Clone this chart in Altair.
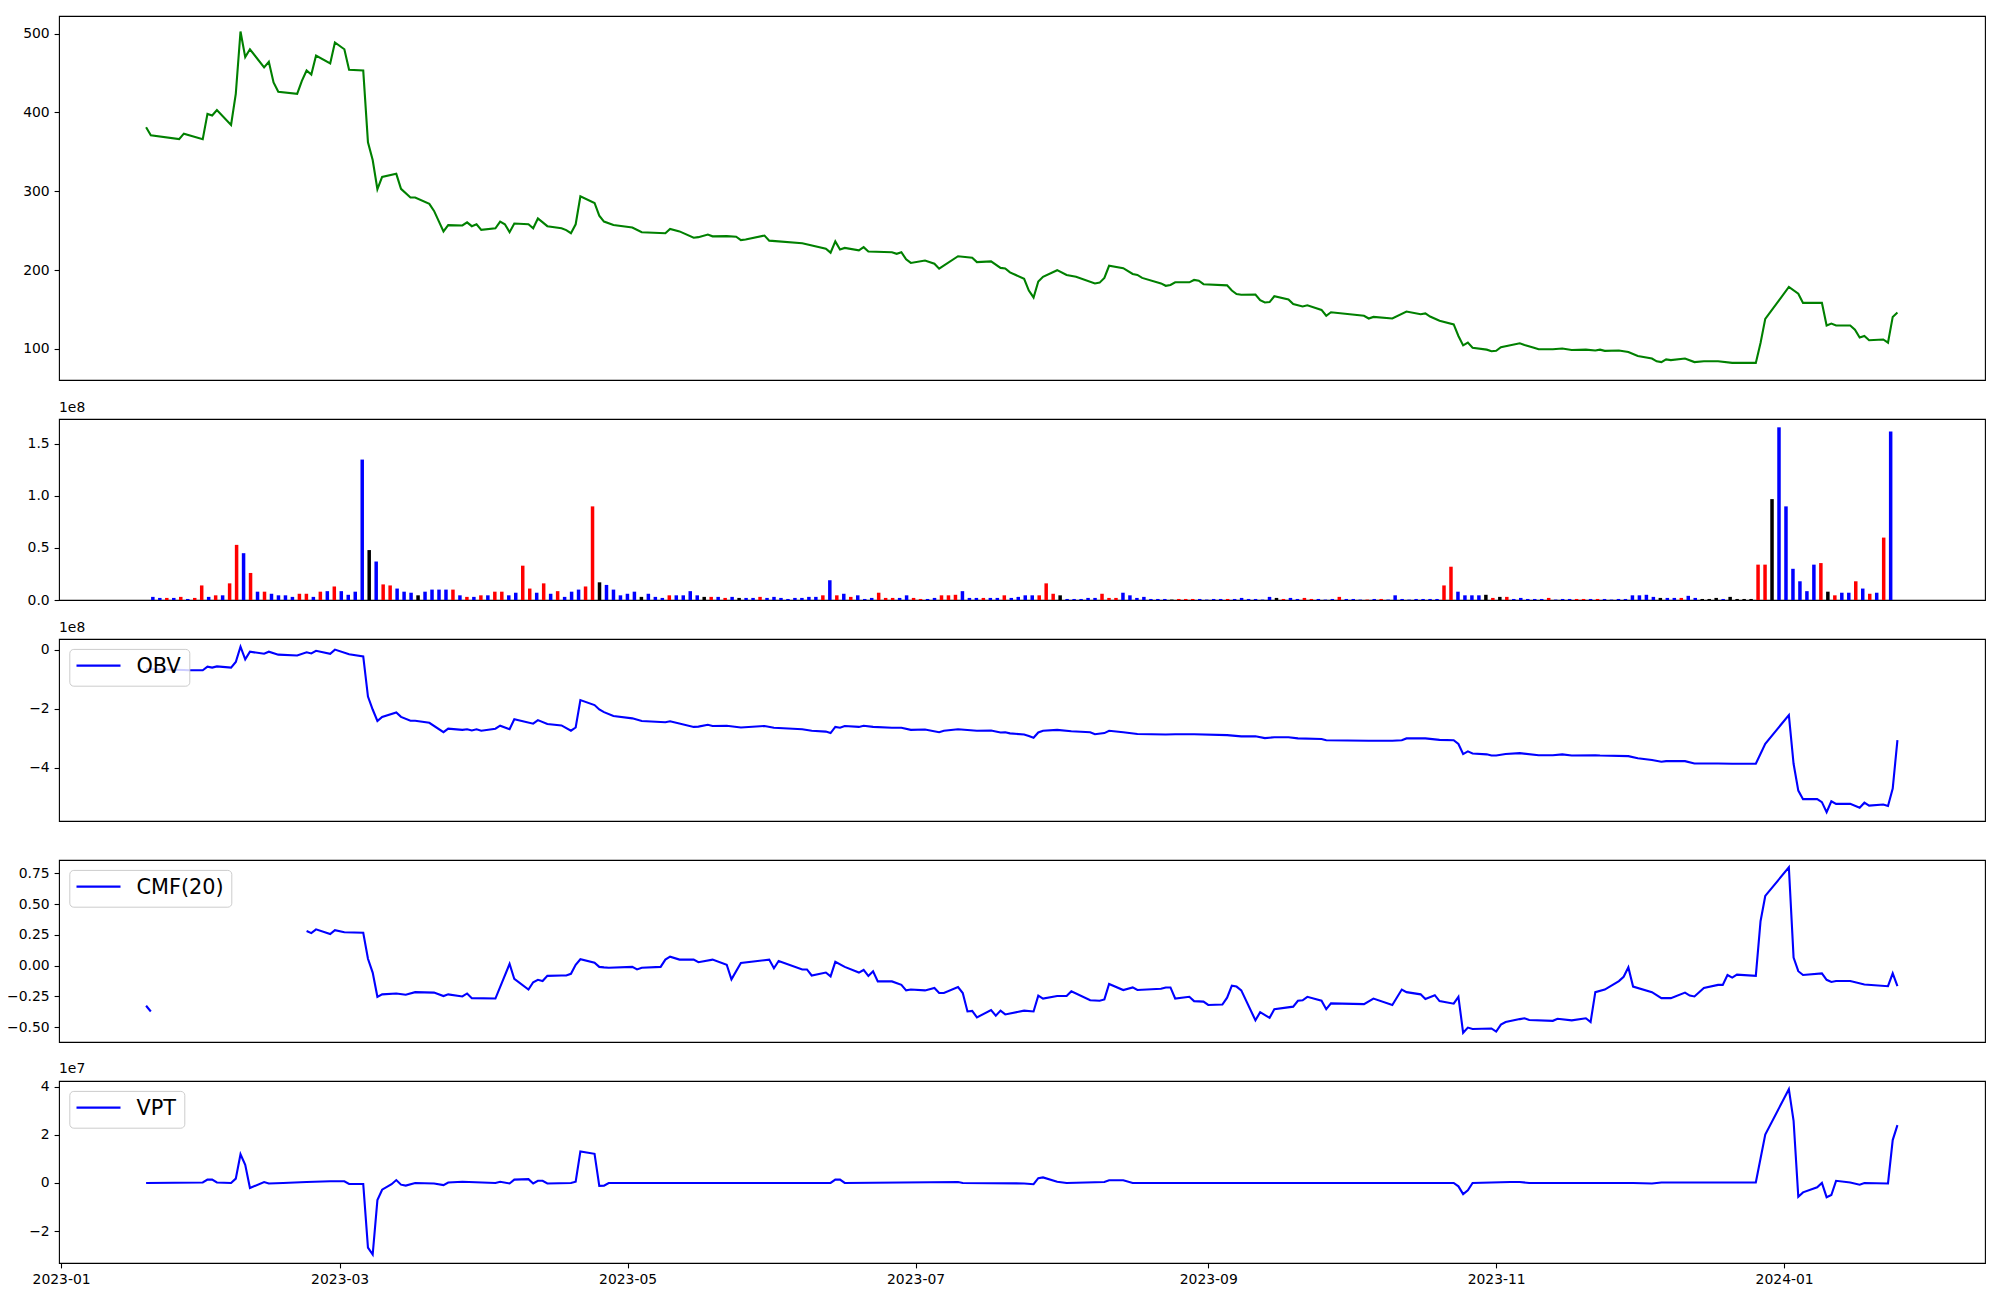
import altair as alt
import pandas as pd

# ---------------- data ----------------
# line series: day offsets since 2023-01-01 and values
price_day = [18, 19, 25, 26, 30, 31, 32, 33, 36, 37, 38, 39, 40, 43, 44, 45, 46, 50, 51, 52, 53, 54, 57, 58, 60, 61,
             64, 65, 66, 67, 68, 71, 72, 74, 75, 78, 79, 81, 82, 85, 86, 87, 88, 89, 92, 93, 94, 95, 96, 99, 100, 101,
             103, 106, 107, 108, 109, 110, 113, 114, 115, 117, 121, 123, 128, 129, 131, 134, 135, 137, 138, 141, 143,
             144, 145, 149, 150, 157, 162, 163, 164, 165, 166, 169, 170, 171, 176, 177, 178, 179, 180, 183, 185, 186,
             190, 193, 194, 197, 199, 200, 201, 204, 205, 206, 207, 208, 211, 213, 215, 219, 220, 221, 222, 225, 227,
             228, 229, 233, 234, 235, 236, 239, 240, 241, 242, 247, 248, 249, 250, 253, 254, 255, 256, 257, 260, 261,
             263, 264, 267, 268, 269, 276, 277, 278, 282, 285, 288, 289, 290, 292, 295, 296, 297, 298, 299, 302, 303,
             304, 305, 309, 310, 312, 313, 316, 318, 320, 323, 325, 326, 327, 330, 332, 334, 337, 338, 339, 340, 341,
             344, 346, 348, 351, 354, 359, 360, 361, 366, 368, 369, 373, 374, 375, 376, 379, 380, 381, 382, 383, 386,
             387, 388, 389]
price_val = [381, 371, 366, 373, 366, 398, 396, 403, 384, 423.5, 502.5, 470, 480, 457, 464, 438, 426, 423.5, 440, 453,
             448, 472, 462, 488.6, 480, 454, 453, 362, 339.5, 302.5, 318, 322, 303, 292, 292, 284, 275, 249, 257, 256.5,
             260.5, 255.6, 258, 251, 253, 261.5, 258, 248, 259, 258, 253, 265.4, 255.6, 253, 250.6, 246.7, 258, 293.6,
             285, 269, 261.5, 257, 254, 248, 246.7, 252, 249, 241, 241.7, 245, 242.7, 243, 242.2, 238, 238.7, 243.7,
             237.3, 234, 227, 222, 236.3, 226, 228, 225, 229, 223.5, 222.5, 220.5, 222.5, 213.6, 209, 212, 208, 201.7,
             217.5, 215.6, 210, 211, 202.7, 202, 197, 188.9, 174, 165.2, 185.4, 191.4, 199.8, 193.8, 191.4, 183, 184,
             190, 205.4, 202.4, 195, 193.8, 190, 183, 180, 181, 184.4, 184.4, 187.4, 186.4, 182, 180.5, 174, 169.6,
             168.6, 169, 161.7, 158.8, 159.3, 166.7, 162.7, 156.8, 153.8, 155.3, 149.4, 142, 146.4, 142, 138.5, 140.5,
             138.5, 147.4, 144, 145, 141, 135.6, 131, 116.3, 104.4, 107.9, 101.5, 99, 97, 97.5, 102, 107, 105, 101.5,
             99.5, 99.5, 100.5, 98.5, 99, 98, 99, 97.5, 98, 96, 91, 87.7, 84.2, 83.2, 86.7, 85.7, 87.7, 83.2, 84.2,
             84.2, 82.2, 82.2, 107.4, 138, 178.5, 170, 158.3, 158.3, 129.6, 132, 129.6, 129.6, 124.2, 114.3, 116.3,
             110.9, 111.9, 107.9, 140.5, 146]

# volume bars (units of 1e8), colour code r / b / k, one per session in order
vol_val = [0.03, 0.02, 0.02, 0.02, 0.03, 0.01, 0.02, 0.14, 0.03, 0.045, 0.045, 0.16, 0.53, 0.45, 0.26, 0.08, 0.08,
           0.06, 0.045, 0.045, 0.03, 0.06, 0.06, 0.03, 0.08, 0.085, 0.13, 0.085, 0.05, 0.08, 1.35, 0.48, 0.37, 0.15,
           0.14, 0.11, 0.08, 0.07, 0.045, 0.08, 0.10, 0.10, 0.10, 0.10, 0.045, 0.03, 0.03, 0.045, 0.045, 0.08, 0.08,
           0.045, 0.07, 0.33, 0.11, 0.07, 0.16, 0.06, 0.085, 0.03, 0.08, 0.10, 0.13, 0.90, 0.17, 0.145, 0.10, 0.045,
           0.06, 0.08, 0.03, 0.06, 0.03, 0.02, 0.045, 0.045, 0.045, 0.085, 0.045, 0.03, 0.03, 0.03, 0.02, 0.03, 0.02,
           0.02, 0.02, 0.03, 0.02, 0.03, 0.02, 0.01, 0.02, 0.02, 0.03, 0.03, 0.045, 0.19, 0.045, 0.06, 0.03, 0.045,
           0.01, 0.02, 0.07, 0.02, 0.02, 0.02, 0.045, 0.02, 0.01, 0.01, 0.02, 0.045, 0.045, 0.05, 0.085, 0.02, 0.02,
           0.02, 0.02, 0.02, 0.045, 0.02, 0.03, 0.045, 0.045, 0.045, 0.16, 0.06, 0.045, 0.01, 0.01, 0.01, 0.02, 0.02,
           0.06, 0.02, 0.02, 0.07, 0.045, 0.02, 0.03, 0.01, 0.01, 0.01, 0.004, 0.01, 0.01, 0.01, 0.01, 0.004, 0.01,
           0.01, 0.01, 0.01, 0.02, 0.01, 0.01, 0.004, 0.03, 0.02, 0.01, 0.02, 0.01, 0.02, 0.01, 0.01, 0.004, 0.01,
           0.03, 0.01, 0.01, 0.004, 0.004, 0.01, 0.01, 0.004, 0.045, 0.01, 0.004, 0.01, 0.01, 0.01, 0.01, 0.14, 0.32,
           0.08, 0.045, 0.045, 0.045, 0.05, 0.02, 0.03, 0.03, 0.01, 0.02, 0.01, 0.01, 0.01, 0.02, 0.004, 0.01, 0.01,
           0.01, 0.01, 0.01, 0.01, 0.01, 0.004, 0.01, 0.01, 0.045, 0.045, 0.05, 0.03, 0.02, 0.02, 0.02, 0.02, 0.04,
           0.02, 0.01, 0.01, 0.02, 0.01, 0.03, 0.01, 0.01, 0.01, 0.34, 0.34, 0.97, 1.66, 0.90, 0.30, 0.18, 0.085,
           0.34, 0.355, 0.08, 0.045, 0.07, 0.07, 0.18, 0.11, 0.06, 0.07, 0.60, 1.62]
vol_code = ("bbrbrbrrbrbrrbrbrbbbbrrbrbrbbbbkbrrbbbkbbbbrbrbrbrrbbrrbrbrbbbrrkbbbbbkbbbrbbbbkrbrbkbbrbbbbbbbbrbrbrbbbrrrb"
            "brrbbrrrbbbrbbrbbbbrrrkbbbbbrrrbbbbbbbkrrrbbbbrbbbbbbkrbbrrbbbrbbbrbrbbbbbbbbrrbbbbkrkrbbbbbrbbbrrbrbbbbb"
            "bbbkbbrbbkkkbkkkkrrkbbbbbbrkrbbrbrbrb")

obv_day = [18, 26, 27, 30, 31, 32, 33, 36, 37, 38, 39, 40, 43, 44, 46, 50, 52, 53, 54, 57, 58, 61, 64, 65, 66, 67, 68,
           71, 72, 74, 75, 78, 81, 82, 85, 86, 87, 88, 89, 92, 93, 95, 96, 100, 101, 103, 106, 108, 109, 110, 113,
           114, 115, 117, 121, 123, 128, 129, 134, 135, 137, 138, 141, 144, 149, 151, 157, 159, 162, 163, 164, 165,
           166, 169, 170, 172, 176, 178, 180, 183, 186, 187, 190, 194, 197, 199, 200, 201, 204, 205, 206, 207, 208,
           211, 214, 218, 219, 221, 222, 225, 228, 234, 236, 240, 247, 250, 253, 255, 257, 260, 262, 267, 268, 277,
           282, 284, 285, 289, 292, 295, 296, 297, 298, 299, 302, 303, 304, 306, 309, 313, 316, 318, 320, 325, 326,
           332, 334, 337, 339, 340, 344, 346, 351, 354, 359, 361, 366, 367, 368, 369, 372, 373, 374, 375, 376, 379,
           381, 382, 383, 386, 387, 388, 389]
obv_val = [-0.66, -0.69, -0.70, -0.70, -0.58, -0.61, -0.57, -0.61, -0.42, 0.10, -0.33, -0.07, -0.14, -0.07, -0.17,
           -0.20, -0.09, -0.13, -0.04, -0.14, 0.0, -0.16, -0.23, -1.59, -2.03, -2.42, -2.28, -2.13, -2.28, -2.41,
           -2.41, -2.48, -2.80, -2.68, -2.72, -2.70, -2.74, -2.70, -2.75, -2.68, -2.58, -2.70, -2.36, -2.51, -2.39,
           -2.52, -2.57, -2.75, -2.64, -1.71, -1.88, -2.03, -2.12, -2.25, -2.33, -2.42, -2.46, -2.43, -2.62, -2.61,
           -2.55, -2.59, -2.58, -2.64, -2.59, -2.65, -2.70, -2.75, -2.78, -2.83, -2.62, -2.65, -2.59, -2.62, -2.58,
           -2.62, -2.65, -2.65, -2.72, -2.71, -2.80, -2.75, -2.70, -2.75, -2.74, -2.81, -2.80, -2.84, -2.88, -2.93,
           -2.99, -2.81, -2.75, -2.72, -2.77, -2.80, -2.87, -2.83, -2.75, -2.80, -2.86, -2.88, -2.87, -2.87, -2.90,
           -2.94, -2.94, -3.00, -2.97, -2.97, -3.01, -3.03, -3.07, -3.09, -3.09, -3.07, -3.01, -3.01, -3.06, -3.07,
           -3.20, -3.54, -3.45, -3.52, -3.55, -3.59, -3.59, -3.54, -3.51, -3.58, -3.58, -3.55, -3.59, -3.58, -3.59,
           -3.61, -3.68, -3.74, -3.80, -3.78, -3.78, -3.86, -3.86, -3.87, -3.87, -3.19, -2.22, -3.87, -4.78, -5.07,
           -5.07, -5.17, -5.51, -5.14, -5.23, -5.23, -5.36, -5.19, -5.29, -5.25, -5.30, -4.71, -3.07]

cmf_day = [18, 19,
           52, 53, 54, 57, 58, 60, 64, 65, 66, 67, 68, 71, 73, 75, 79, 81, 82, 85, 86, 87, 92, 95, 96, 99, 100, 101,
           102, 103, 106, 107, 108, 109, 110, 113, 114, 115, 116, 121, 122, 123, 127, 128, 129, 131, 134, 135, 138,
           141, 142, 144, 150, 151, 152, 157, 158, 159, 162, 163, 164, 166, 169, 170, 171, 172, 173, 176, 178, 179,
           180, 183, 185, 186, 187, 190, 191, 192, 193, 194, 197, 198, 199, 200, 204, 206, 207, 208, 211, 213, 214,
           218, 220, 221, 222, 225, 227, 228, 233, 234, 235, 236, 239, 240, 242, 243, 246, 247, 248, 249, 250, 253,
           254, 256, 257, 261, 262, 263, 264, 267, 268, 269, 276, 278, 282, 284, 285, 288, 289, 291, 292, 295, 296,
           297, 298, 299, 303, 304, 305, 306, 309, 310, 311, 316, 317, 320, 323, 324, 325, 327, 330, 331, 332, 333,
           337, 339, 341, 344, 345, 346, 348, 351, 352, 353, 354, 355, 359, 360, 361, 366, 367, 368, 369, 373, 374,
           375, 376, 379, 382, 387, 388, 389]
cmf_val = [-0.326, -0.372,
           0.281, 0.264, 0.295, 0.257, 0.288, 0.271, 0.267, 0.056, -0.056, -0.253, -0.233, -0.226, -0.236, -0.215,
           -0.219, -0.247, -0.233, -0.25, -0.226, -0.264, -0.267, 0.014, -0.108, -0.194, -0.135, -0.115, -0.125,
           -0.083, -0.080, -0.080, -0.066, 0.007, 0.052, 0.024, -0.010, -0.014, -0.017, -0.010, -0.031, -0.017,
           -0.010, 0.049, 0.073, 0.049, 0.049, 0.028, 0.049, 0.007, -0.111, 0.021, 0.049, -0.021, 0.038, -0.031,
           -0.031, -0.080, -0.056, -0.087, 0.031, -0.010, -0.056, -0.035, -0.083, -0.045, -0.128, -0.128, -0.156,
           -0.201, -0.194, -0.201, -0.181, -0.222, -0.222, -0.174, -0.222, -0.372, -0.368, -0.42, -0.361, -0.406,
           -0.365, -0.396, -0.365, -0.372, -0.243, -0.267, -0.247, -0.247, -0.208, -0.281, -0.285, -0.274, -0.149,
           -0.198, -0.177, -0.198, -0.188, -0.177, -0.177, -0.267, -0.253, -0.288, -0.292, -0.319, -0.316, -0.260,
           -0.163, -0.17, -0.201, -0.444, -0.378, -0.424, -0.354, -0.333, -0.285, -0.281, -0.253, -0.285, -0.354,
           -0.306, -0.312, -0.267, -0.319, -0.194, -0.215, -0.233, -0.271, -0.240, -0.288, -0.309, -0.253, -0.545,
           -0.503, -0.514, -0.510, -0.535, -0.479, -0.458, -0.434, -0.427, -0.441, -0.448, -0.431, -0.444, -0.427,
           -0.458, -0.215, -0.194, -0.125, -0.090, -0.014, -0.170, -0.215, -0.264, -0.264, -0.219, -0.243, -0.250,
           -0.181, -0.156, -0.156, -0.076, -0.097, -0.073, -0.083, 0.361, 0.566, 0.799, 0.066, -0.045, -0.076,
           -0.0625, -0.115, -0.132, -0.125, -0.125, -0.153, -0.167, -0.0625, -0.167]
cmf_seg = [0, 0] + [1] * (len(cmf_day) - 2)

vpt_day = [18, 30, 31, 32, 33, 36, 37, 38, 39, 40, 43, 44, 47, 52, 57, 60, 61, 64, 65, 66, 67, 68, 70, 71, 72, 73, 75,
           79, 81, 82, 85, 92, 93, 95, 96, 99, 100, 101, 102, 103, 108, 109, 110, 113, 114, 115, 116, 163, 164, 165,
           166, 190, 191, 204, 206, 207, 208, 211, 213, 221, 222, 225, 227, 295, 296, 297, 298, 299, 307, 309, 311,
           333, 337, 339, 359, 361, 366, 367, 368, 369, 372, 373, 374, 375, 376, 379, 381, 382, 387, 388, 389]
vpt_val = [0, 0.02, 0.14, 0.14, 0.02, 0, 0.18, 1.19, 0.75, -0.21, 0.04, -0.02, 0, 0.04, 0.07, 0.07, -0.04, -0.04,
           -2.68, -2.97, -0.71, -0.28, -0.05, 0.12, -0.07, -0.11, 0, -0.02, -0.09, 0.02, 0.05, 0, 0.05, -0.02, 0.14,
           0.16, -0.02, 0.09, 0.09, -0.02, 0, 0.05, 1.31, 1.21, -0.12, -0.11, 0, 0, 0.14, 0.14, 0, 0.04, 0, -0.02,
           -0.05, 0.2, 0.23, 0.05, 0, 0.04, 0.11, 0.11, 0, 0, -0.14, -0.46, -0.30, 0, 0.04, 0.04, 0, 0, -0.02, 0.02,
           0.02, 2.01, 3.89, 2.58, -0.57, -0.39, -0.18, 0, -0.59, -0.50, 0.09, 0.02, -0.07, 0, -0.02, 1.78, 2.40]

# ---------------- build ----------------
BASE = pd.Timestamp("2023-01-01")


def to_dates(days):
    return [(BASE + pd.Timedelta(days=int(d))).strftime("%Y-%m-%d") for d in days]


COLORS = {"r": "red", "b": "blue", "k": "black"}
FONT = "DejaVu Sans"
W = 1926
LW = 2.1

xscale = alt.Scale(type="utc", nice=False, domain=[
    alt.DateTime(year=2022, month=12, date=31, hours=13, minutes=12, utc=True),
    alt.DateTime(year=2024, month=2, date=12, hours=13, minutes=12, utc=True)])
x_hidden = alt.X("date:T", scale=xscale, axis=None)
x_bottom = alt.X("date:T", scale=xscale, axis=alt.Axis(
    title=None, format="%Y-%m", labelFlush=False,
    values=[alt.DateTime(year=y, month=m, date=1, utc=True)
            for (y, m) in [(2023, 1), (2023, 3), (2023, 5), (2023, 7), (2023, 9), (2023, 11), (2024, 1)]]))


def ttl(t):
    return alt.TitleParams(text=t, anchor="start", frame="group", fontSize=13.9, font=FONT,
                           fontWeight="normal", color="black", offset=4)


def legend_parts(label, box_w):
    """matplotlib-style legend box in the upper-left corner of a panel"""
    base = alt.Chart(pd.DataFrame({"t": [label]}))
    box = base.mark_rect(fill="white", fillOpacity=0.8, stroke="#cccccc", strokeWidth=1,
                         cornerRadius=4).encode(
        x=alt.value(10.8), x2=alt.value(10.8 + box_w), y=alt.value(10.4), y2=alt.value(47.2))
    sample = base.mark_rule(color="blue", strokeWidth=LW).encode(
        x=alt.value(17.5), x2=alt.value(61.5), y=alt.value(26.6))
    txt = base.mark_text(align="left", baseline="alphabetic", font=FONT, fontSize=20.8,
                         color="black").encode(x=alt.value(77.5), y=alt.value(33.8), text="t:N")
    return [box, sample, txt]


price_df = pd.DataFrame({"date": to_dates(price_day), "price": price_val})
c1 = alt.Chart(price_df).mark_line(color="green", strokeWidth=LW).encode(
    x=x_hidden,
    y=alt.Y("price:Q", scale=alt.Scale(domain=[60.5, 522.2], nice=False, zero=False),
            axis=alt.Axis(title=None, values=[100, 200, 300, 400, 500], format="d")),
).properties(width=W, height=364)

vol_df = pd.DataFrame({"i": list(range(len(vol_val))), "vol": vol_val,
                       "c": [COLORS[c] for c in vol_code[:len(vol_val)]]})
c2 = alt.Chart(vol_df, title=ttl("1e8")).mark_bar(size=3.5).encode(
    x=alt.X("i:Q", scale=alt.Scale(domain=[-12.73, 261.8], nice=False, zero=False), axis=None),
    y=alt.Y("vol:Q", stack=None, scale=alt.Scale(domain=[0, 1.74], nice=False),
            axis=alt.Axis(title=None, values=[0, 0.5, 1.0, 1.5], format=".1f")),
    color=alt.Color("c:N", scale=None),
).properties(width=W, height=181)

obv_df = pd.DataFrame({"date": to_dates(obv_day), "v": obv_val})
obv_line = alt.Chart(obv_df).mark_line(color="blue", strokeWidth=LW).encode(
    x=x_hidden,
    y=alt.Y("v:Q", scale=alt.Scale(domain=[-5.81, 0.36], nice=False, zero=False),
            axis=alt.Axis(title=None, values=[-4, -2, 0], format="d")),
)
c3 = alt.layer(obv_line, *legend_parts("OBV", 120), title=ttl("1e8")).properties(width=W, height=182)

cmf_df = pd.DataFrame({"date": to_dates(cmf_day), "v": cmf_val, "seg": cmf_seg})
cmf_line = alt.Chart(cmf_df).mark_line(color="blue", strokeWidth=LW).encode(
    x=x_hidden,
    y=alt.Y("v:Q", scale=alt.Scale(domain=[-0.62, 0.858], nice=False, zero=False),
            axis=alt.Axis(title=None, values=[-0.5, -0.25, 0, 0.25, 0.5, 0.75], format=".2f")),
    detail="seg:N",
)
c4 = alt.layer(cmf_line, *legend_parts("CMF(20)", 162)).properties(width=W, height=182)

vpt_df = pd.DataFrame({"date": to_dates(vpt_day), "v": vpt_val})
vpt_line = alt.Chart(vpt_df).mark_line(color="blue", strokeWidth=LW).encode(
    x=x_bottom,
    y=alt.Y("v:Q", scale=alt.Scale(domain=[-3.32, 4.23], nice=False, zero=False),
            axis=alt.Axis(title=None, values=[-2, 0, 2, 4], format="d")),
)
c5 = alt.layer(vpt_line, *legend_parts("VPT", 115), title=ttl("1e7")).properties(width=W, height=182)

chart = alt.vconcat(c1, c2, c3, c4, c5, spacing=39, bounds="flush").resolve_scale(
    x="independent", y="independent"
)

try:
    chart = chart.properties(padding={"left": -2, "top": 7, "right": 5, "bottom": 5}, background="white")
    chart.to_dict()
except Exception:
    chart = chart.properties(padding={"left": 0, "top": 7, "right": 5, "bottom": 5}, background="white")

chart = chart.configure_view(
    stroke="black", strokeWidth=1.1
).configure_axis(
    domain=False, grid=False, ticks=True, tickColor="black", tickWidth=1.1, tickSize=4.9,
    labelPadding=4.9, labelFont=FONT, labelFontSize=13.9, labelColor="black"
)

chart.save("out.html", embed_options={"renderer": "svg", "actions": False})
